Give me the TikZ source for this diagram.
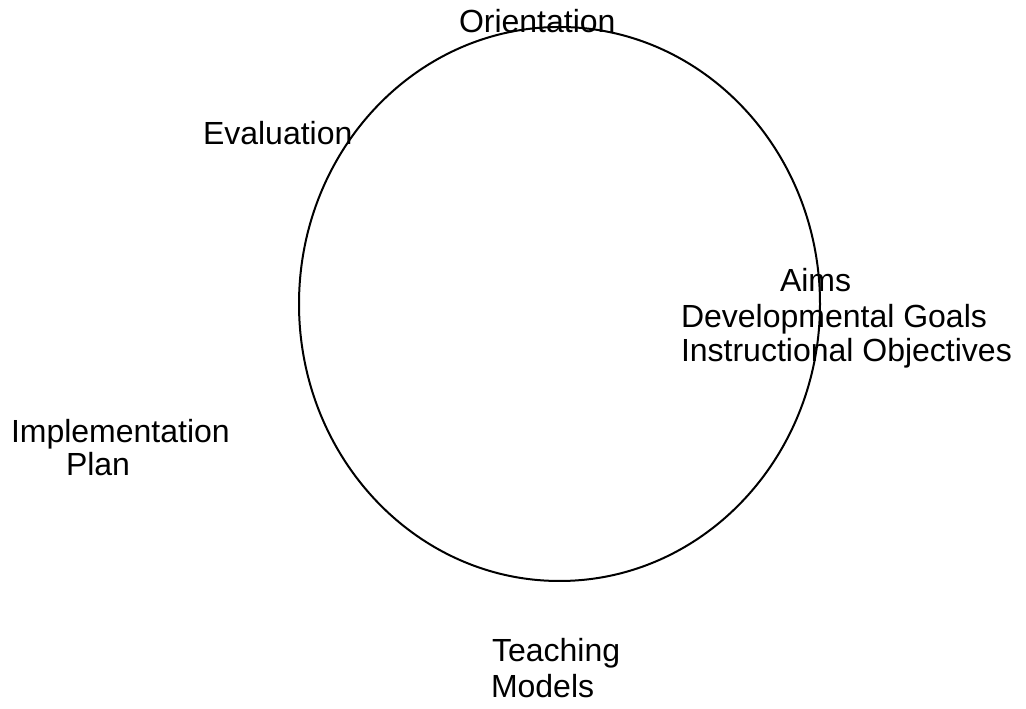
\documentclass[tikz,border=0pt]{standalone}
\usepackage{fontspec}
\setmainfont{Liberation Sans}
\begin{document}
\begin{tikzpicture}[x=1pt,y=1pt,
  lbl/.style={anchor=base west,inner sep=0pt,outer sep=0pt,font=\fontsize{32}{35}\selectfont}]
\useasboundingbox (0,0) rectangle (1026,709);
% planning cycle
\draw[line width=2pt] (559.5,405) ellipse [x radius=260.5, y radius=277];
% stage labels
\node[lbl] (orient) at (459,676) {Orientation};
\node[lbl] (eval) at (203,564) {Evaluation};
\node[lbl] (aims) at (780,417) {Aims};
\node[lbl] (goals) at (681,381) {Developmental Goals};
\node[lbl] (objs) at (681,347) {Instructional Objectives};
\node[lbl] (impl) at (11,266) {Implementation};
\node[lbl] (plan) at (66,233) {Plan};
\node[lbl] (teach) at (492,47) {Teaching};
\node[lbl] (models) at (491,11) {Models};
\end{tikzpicture}
\end{document}
